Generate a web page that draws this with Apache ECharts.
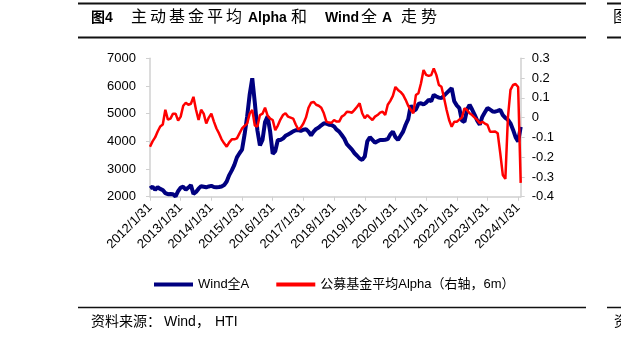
<!DOCTYPE html>
<html>
<head>
<meta charset="utf-8">
<script src="https://cdn.jsdelivr.net/npm/echarts@6/dist/echarts.min.js"></script>
<style>
  html, body { margin: 0; padding: 0; background: #fff; }
  #chart { width: 621px; height: 341px; }
</style>
</head>
<body>
<div id="chart"></div>
<script>
// Wind全A 月末点位，2012/1 起
const windA = [
  2300, 2360, 2250, 2340, 2280, 2240, 2130, 2090, 2100, 2090, 2010, 2200,
  2330, 2360, 2250, 2330, 2420, 2100, 2170, 2290, 2380, 2360, 2340, 2370,
  2390, 2350, 2340, 2350, 2370, 2420, 2550, 2780, 2950, 3150, 3420, 3570,
  3700, 4250, 4900, 5700, 6280, 5400, 4400, 3850, 4050, 4700, 4900, 4350,
  3550, 3650, 4050, 4050, 4100, 4200, 4250, 4300, 4360, 4400, 4410, 4380,
  4420, 4440, 4350, 4220, 4350, 4450, 4500, 4580, 4650, 4640, 4600, 4590,
  4540, 4420, 4350, 4230, 4100, 3900, 3800, 3700, 3570, 3480, 3380, 3330,
  3450, 4000, 4150, 4050, 3950, 4000, 4050, 4050, 4060, 4080, 4250, 4350,
  4150, 4050, 4200, 4350, 4600, 4800, 5300, 5100, 5150, 5350, 5380, 5330,
  5400, 5500, 5450, 5680, 5620, 5580, 5560, 5650, 5740, 5830, 5920, 5450,
  5300, 5200, 4750, 4700, 5140, 5320, 5150, 4960, 4750, 4600, 4890, 5050,
  5200, 5150, 5080, 5070, 5100, 5140, 4950, 4850, 4780, 4650, 4420, 4150,
  3990, 4520
];
// 公募基金平均Alpha（6m），右轴
const alpha = [
  -0.147, -0.12, -0.10, -0.07, -0.045, -0.035, 0.04, -0.01, -0.005, 0.02, 0.02, -0.015,
  0.005, 0.06, 0.075, 0.065, 0.07, 0.105, 0.04, -0.012, 0.04, 0.02, -0.03, 0.0,
  0.02, -0.02, -0.055, -0.08, -0.11, -0.13, -0.147, -0.125, -0.11, -0.11, -0.105, -0.08,
  -0.055, -0.042, -0.03, 0.02, 0.039, -0.04, -0.045, 0.013, 0.02, 0.05, 0.01, -0.005,
  -0.012, -0.063, -0.04, -0.01, 0.013, 0.022, 0.005, 0.0, -0.005, -0.035, -0.06, -0.05,
  -0.03, 0.0, 0.05, 0.075, 0.08, 0.065, 0.06, 0.05, 0.022, -0.02, -0.025, -0.026,
  -0.012, -0.02, -0.02, 0.005, 0.013, 0.03, 0.028, 0.025, 0.039, 0.055, 0.072, 0.022,
  -0.003, 0.013, 0.0, -0.012, 0.005, 0.013, 0.025, 0.03, 0.013, 0.065, 0.085, 0.11,
  0.155, 0.14, 0.13, 0.115, 0.09, 0.06, 0.04, 0.022, 0.114, 0.123, 0.174, 0.241,
  0.216, 0.211, 0.215, 0.249, 0.216, 0.165, 0.156, 0.10, 0.04, -0.012, -0.046, -0.021,
  -0.021, -0.01, 0.0, 0.047, 0.039, 0.022, 0.013, 0.0, -0.012, -0.029, -0.021, -0.03,
  -0.037, -0.071, -0.071, -0.07, -0.079, -0.18, -0.29, -0.31, 0.0, 0.14, 0.165, 0.17,
  0.155, -0.33
];

// 月末日期作为类目
function monthEnd(y, m) {
  return y + '/' + m + '/' + new Date(y, m, 0).getDate();
}
const dates = [];
for (let k = 0; k < windA.length; k++) {
  dates.push(monthEnd(2012 + Math.floor(k / 12), (k % 12) + 1));
}

const seriesNames = ['Wind全A', '公募基金平均Alpha（右轴，6m）'];
// 标题逐字摆放（原图字距较宽）
const titlePieces = [
  ['图4', 91], ['主', 131], ['动', 150], ['基', 169], ['金', 188], ['平', 207], ['均', 226],
  ['Alpha', 248], ['和', 291], ['Wind', 325], ['全', 361], ['A', 382], ['走', 401], ['势', 421]
];
const sourcePieces = [['资料来源：', 91], ['Wind，', 164], ['HTI', 215]];

const FONT = '"Liberation Sans", Arial, "Noto Sans CJK SC", sans-serif';
const axisGray = '#d0d0d0';

const chart = echarts.init(document.getElementById('chart'), null, { renderer: 'canvas' });

const graphics = [];
// 标题上下横线 + 右侧相邻图的残线
[3.5, 37.5, 307.5].forEach(function (y) {
  const w = y === 307.5 ? 1.5 : 2;
  graphics.push({ type: 'line', shape: { x1: 78, y1: y, x2: 586, y2: y }, style: { stroke: '#111', lineWidth: w }, silent: true });
  graphics.push({ type: 'line', shape: { x1: 607, y1: y, x2: 621, y2: y }, style: { stroke: '#111', lineWidth: w }, silent: true });
});
titlePieces.forEach(function (p) {
  const latin = /^[A-Za-z0-9]+$/.test(p[0]) || p[0] === '图4';
  graphics.push({
    type: 'text', x: p[1], y: 18, silent: true,
    style: {
      text: p[0], fill: '#000', verticalAlign: 'middle',
      font: latin ? 'bold 14px ' + FONT : '16px ' + FONT
    }
  });
});
graphics.push({ type: 'text', x: 613, y: 18, silent: true, style: { text: '图', fill: '#000', font: '16px ' + FONT, verticalAlign: 'middle' } });
sourcePieces.forEach(function (p) {
  graphics.push({
    type: 'text', x: p[1], y: 322, silent: true,
    style: { text: p[0], fill: '#000', font: '14px ' + FONT, verticalAlign: 'middle' }
  });
});
graphics.push({ type: 'text', x: 614, y: 322, silent: true, style: { text: '资', fill: '#000', font: '14px ' + FONT, verticalAlign: 'middle' } });

const option = {
  animation: false,
  textStyle: { fontFamily: FONT },
  graphic: graphics,
  grid: { left: 150, right: 100.3, top: 58.3, bottom: 144.3, containLabel: false },
  legend: {
    left: 149, top: 273,
    itemWidth: 39, itemHeight: 4, itemGap: 27,
    textStyle: { fontSize: 13, color: '#000', fontFamily: FONT },
    data: [
      { name: seriesNames[0], icon: 'rect' },
      { name: seriesNames[1], icon: 'rect' }
    ]
  },
  xAxis: {
    type: 'category',
    data: dates,
    boundaryGap: false,
    axisLine: { onZero: false, lineStyle: { color: axisGray, width: 1.5 } },
    axisTick: { interval: 11, length: 4, lineStyle: { color: axisGray } },
    axisLabel: { interval: 11, rotate: 45, fontSize: 13, color: '#000', margin: 9 },
    splitLine: { show: false }
  },
  yAxis: [
    {
      type: 'value', min: 2000, max: 7000, interval: 1000,
      axisLine: { show: true, lineStyle: { color: axisGray, width: 1.5 } },
      axisTick: { show: true, length: 4, lineStyle: { color: axisGray } },
      axisLabel: { fontSize: 13, color: '#000', margin: 14, formatter: function (v) { return String(v); } },
      splitLine: { show: false }
    },
    {
      type: 'value', min: -0.4, max: 0.3, interval: 0.1,
      axisLine: { show: true, lineStyle: { color: axisGray, width: 1.5 } },
      axisTick: { show: true, length: 4, lineStyle: { color: axisGray } },
      axisLabel: { fontSize: 13, color: '#000', margin: 11, formatter: function (v) { return String(Math.round(v * 10) / 10); } },
      splitLine: { show: false }
    }
  ],
  series: [
    {
      name: seriesNames[0], type: 'line', data: windA, yAxisIndex: 0,
      showSymbol: false, symbol: 'none',
      lineStyle: { color: '#000080', width: 4 },
      itemStyle: { color: '#000080' }
    },
    {
      name: seriesNames[1], type: 'line', data: alpha, yAxisIndex: 1,
      showSymbol: false, symbol: 'none',
      lineStyle: { color: '#ff0000', width: 2.5 },
      itemStyle: { color: '#ff0000' }
    }
  ]
};

chart.setOption(option);
</script>
</body>
</html>
